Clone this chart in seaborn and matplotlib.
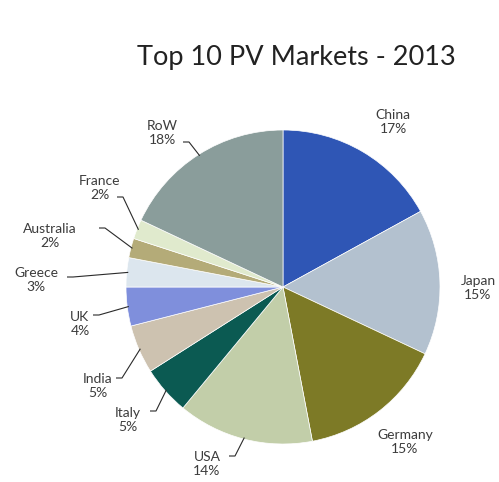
import numpy as np
import matplotlib
matplotlib.use("Agg")
import matplotlib.pyplot as plt
import seaborn as sns

# ---- data ----
countries = ["China", "Japan", "Germany", "USA", "Italy", "India", "UK",
             "Greece", "Australia", "France", "RoW"]
shares = [17, 15, 15, 14, 5, 5, 4, 3, 2, 2, 18]
colors = ["#2f56b5", "#b3c1cf", "#7d7a26", "#c2cea9", "#0b5a52", "#cdc2b0",
          "#7f8fdc", "#dce6ee", "#b4ab78", "#e0eacd", "#8a9d9b"]
title = "Top 10 PV Markets - 2013"

# label anchor positions in pixel space (x, y from top) and whether a leader line is drawn
label_pos = [(393, 122, False), (478, 288, False), (405, 442, False), (207, 464, True),
             (128, 420, True), (98, 386, True), (80, 324, True), (36, 280, True),
             (50, 236, True), (100, 188, True), (162, 133, True)]
# leader start offsets (px) relative to label anchor
leader_start = [None, None, None, (22, -8), (22, -9), (18, -8), (13, -9), (31, -3),
                (49, -8), (17, 9), (21, 9)]

sns.set_theme(style="white")
plt.rcParams["font.family"] = ["Lato", "DejaVu Sans"]

W, H = 499, 482
fig = plt.figure(figsize=(W / 100, H / 100), dpi=100)
ax = fig.add_axes([0, 0, 1, 1])

cx, cy, r = 283, H - 287, 157
wedges, _ = ax.pie(shares, colors=colors, startangle=90, counterclock=False,
                   center=(cx, cy), radius=r, frame=True,
                   wedgeprops=dict(edgecolor="white", linewidth=0.5))
ax.set_xlim(0, W)
ax.set_ylim(0, H)
ax.set_aspect("equal")
ax.axis("off")

txtc = "#3c3c3c"
for w, name, val, (lx, ly, lead), ls in zip(wedges, countries, shares, label_pos, leader_start):
    ax.text(lx, H - ly, f"{name}\n{val}%", ha="center", va="center",
            fontsize=10, color=txtc, linespacing=1.2)
    if lead and ls is not None:
        ang = np.deg2rad((w.theta1 + w.theta2) / 2)
        ex = cx + r * 0.99 * np.cos(ang)
        ey = cy + r * 0.99 * np.sin(ang)
        sx, sy = lx + ls[0], H - (ly + ls[1])
        ax.plot([sx, sx + 6, ex], [sy, sy, ey], color="#2a2a2a", lw=0.8,
                solid_capstyle="butt")

fig.text(296 / W, 1 - 58 / H, title, ha="center", va="center",
         fontsize=19.5, color="#222222")

fig.savefig("out.png", dpi=100, facecolor="white")
